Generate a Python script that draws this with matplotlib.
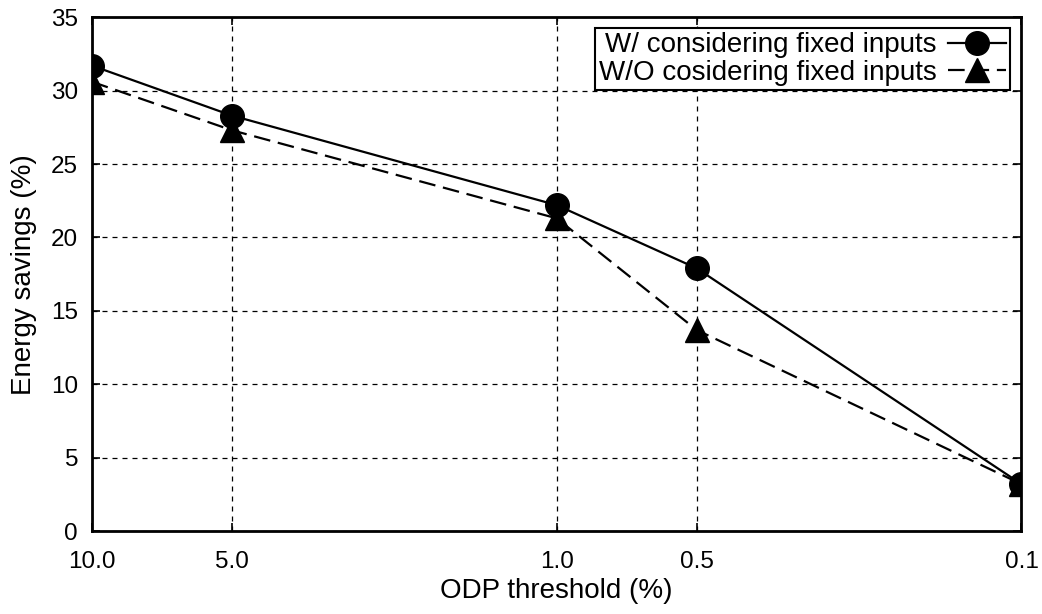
import matplotlib.pyplot as plt
from matplotlib.ticker import FixedLocator, NullLocator

plt.rcParams['font.family'] = ['Liberation Sans', 'DejaVu Sans']

# data
odp_threshold = [10.0, 5.0, 1.0, 0.5, 0.1]
tick_labels = ['10.0', '5.0', '1.0', '0.5', '0.1']
with_fixed = [31.7, 28.3, 22.2, 17.9, 3.2]
without_fixed = [30.6, 27.3, 21.3, 13.7, 3.2]

fig = plt.figure(figsize=(10.42, 6.14), dpi=100)
ax = fig.add_axes([0.0883, 0.135, 0.892, 0.837])

ax.plot(odp_threshold, with_fixed, color='black', linewidth=1.6, marker='o',
        markersize=17, label='W/ considering fixed inputs')
ax.plot(odp_threshold, without_fixed, color='black', linewidth=1.6, linestyle=(0, (7.5, 3.5)),
        marker='^', markersize=17, label='W/O cosidering fixed inputs')

ax.set_xscale('log')
ax.set_xlim(10.0, 0.1)
ax.xaxis.set_major_locator(FixedLocator(odp_threshold))
ax.xaxis.set_minor_locator(NullLocator())
ax.set_xticklabels(tick_labels)
ax.set_ylim(0, 35)
ax.set_yticks(range(0, 36, 5))

ax.grid(True, color='black', linestyle=(0, (4, 4)), linewidth=0.9)
ax.tick_params(direction='in', top=True, right=True, length=6, width=1.2,
               labelsize=17.5)
ax.tick_params(axis='x', pad=14)
ax.tick_params(axis='y', pad=10)
for s in ax.spines.values():
    s.set_linewidth(2)

ax.set_xlabel('ODP threshold (%)', fontsize=20, labelpad=4)
ax.set_ylabel('Energy savings (%)', fontsize=20, labelpad=10)

leg = ax.legend(loc='upper right', markerfirst=False, fontsize=20, fancybox=False,
                framealpha=1, edgecolor='black', handlelength=2.1, handletextpad=0.4,
                borderaxespad=0.4, borderpad=0.15, labelspacing=0.05)
leg.get_frame().set_linewidth(1.5)
for t in leg.get_texts():
    t.set_ha('right')

fig.savefig('out.png', dpi=100)
